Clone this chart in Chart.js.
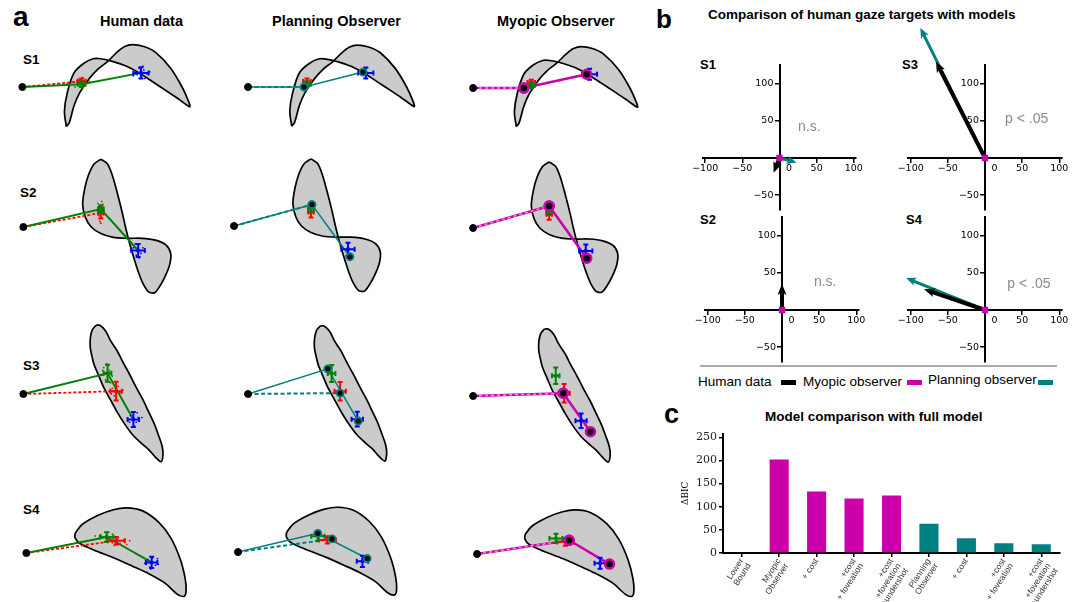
<!DOCTYPE html>
<html>
<head>
<meta charset="utf-8">
<script src="https://cdn.jsdelivr.net/npm/chart.js@4.4.1/dist/chart.umd.min.js"></script>
<style>
html, body { margin: 0; padding: 0; width: 1083px; height: 602px; overflow: hidden; background: #fff;
  font-family: 'Liberation Sans', Arial, sans-serif; }
.t { position: absolute; white-space: nowrap; line-height: 1; color: #000; }
.b { font-weight: bold; }
canvas { position: absolute; }
.bar { position: absolute; }
</style>
</head>
<body>
<div class="t b" style="left:13px;top:3px;font-size:28px">a</div>
<div class="t b" style="left:100px;top:14px;font-size:14.5px">Human data</div>
<div class="t b" style="left:272px;top:14px;font-size:14.5px">Planning Observer</div>
<div class="t b" style="left:497px;top:14px;font-size:14.5px">Myopic Observer</div>
<div class="t b" style="left:23px;top:53px;font-size:13.5px">S1</div>
<div class="t b" style="left:20px;top:186px;font-size:13.5px">S2</div>
<div class="t b" style="left:23px;top:359px;font-size:13.5px">S3</div>
<div class="t b" style="left:23px;top:503px;font-size:13.5px">S4</div>

<div class="t b" style="left:656px;top:6px;font-size:26px">b</div>
<div class="t b" style="left:708px;top:7.5px;font-size:13.5px">Comparison of human gaze targets with models</div>
<div class="t b" style="left:700px;top:58px;font-size:13px">S1</div>
<div class="t b" style="left:902px;top:58px;font-size:13px">S3</div>
<div class="t b" style="left:700px;top:213px;font-size:13px">S2</div>
<div class="t b" style="left:906px;top:213px;font-size:13px">S4</div>
<div class="bar" style="left:700px;top:365px;width:357px;height:1.5px;background:#aaa"></div>
<div class="t" style="left:698px;top:374.5px;font-size:13.5px">Human data</div>
<div class="bar" style="left:781px;top:380px;width:15px;height:4.5px;background:#000"></div>
<div class="t" style="left:803px;top:374.5px;font-size:13.5px">Myopic observer</div>
<div class="bar" style="left:907px;top:380px;width:15px;height:5px;background:#cc00aa"></div>
<div class="t" style="left:928px;top:372.5px;font-size:13.5px">Planning observer</div>
<div class="bar" style="left:1038px;top:380px;width:15px;height:5px;background:#008080"></div>

<div class="t b" style="left:664px;top:401px;font-size:27px">c</div>
<div class="t b" style="left:765px;top:409.5px;font-size:13.5px">Model comparison with full model</div>

<script>
// ---------- panel a: stimulus outlines (px, relative to start fixation, y down) ----------
const outlineS1 = [[46,42],[44,26],[47,6],[54,-15],[64,-25],[74,-30],[82,-30],[95,-27],[109,-22],[122,-15],
  [137,-5],[152,5],[165,14],[175,21],[174,16],[167,0],[155,-20],[139,-37],[127,-43],[115,-45],[107,-43],
  [99,-37],[89,-27],[79,-19],[70,-9],[60,6],[54,20],[49,38],[46,42]];
const outlineS2 = [[81,-72],[74,-67],[68,-55],[64,-40],[62,-24],[65,-10],[71,0],[81,7],[94,11],[109,12],
  [124,12],[138,14],[149,19],[154,28],[153,40],[148,53],[142,64],[137,70],[131,69],[125,60],[120,47],
  [115,31],[111,17],[107,1],[103,-17],[98,-37],[93,-55],[88,-67],[81,-72]];
const outlineS3 = [[76,-73],[72,-68],[70,-59],[70,-49],[72,-39],[74,-31],[79,-19],[84,-7],[91,6],[98,19],
  [106,32],[114,43],[123,52],[131,59],[138,67],[144,72],[146,64],[145,55],[141,43],[137,32],[131,19],
  [125,6],[118,-7],[111,-21],[104,-34],[98,-46],[91,-57],[86,-67],[80,-73],[76,-73]];
const outlineS4 = [[51,-21],[58,-30],[75,-40],[91,-46],[105,-48],[121,-45],[138,-33],[151,-16],[161,7],
  [166,27],[167,40],[165,46],[158,44],[145,32],[128,22],[111,14],[91,5],[71,-3],[56,-10],[51,-16],[51,-21]];
const outlines = [outlineS1, outlineS2, outlineS3, outlineS4];

// human fixation means and spread (S1..S4)
const humanMeanGreen = [[62,-3],[81,-19],[88,-22],[84,-17]];
const humanErrGreen  = [[4,3],[3,4],[4,9],[7,5]];
const humanMeanRed   = [[62,-6],[81,-15],[97,-3],[94,-13]];
const humanErrRed    = [[4,3],[3,6],[6,10],[9,4]];
const humanMeanBlue  = [[124,-15],[120,25],[115,27],[131,10]];
const humanErrBlue   = [[8,6],[7,7],[6,8],[6,6]];

const humanDotsGreen = [
  [[58,-2],[60,0],[64,-6],[66,-2],[63,2],[57,-5],[61,-8],[68,-4],[55,0]],
  [[79,-22],[83,-24],[80,-16],[84,-20],[78,-25],[82,-27]],
  [[84,-28],[86,-15],[90,-25],[82,-20],[93,-19],[87,-32],[83,-25],[91,-12]],
  [[78,-19],[88,-14],[82,-12],[90,-20],[86,-22],[76,-16],[72,-18]]
];
const humanDotsRed = [
  [[59,-8],[63,-10],[66,-7],[60,-4],[57,-7],[65,-3],[70,-6],[52,-5],[47,-4]],
  [[79,-12],[82,-10],[80,-6],[83,-14],[78,-17],[81,-4]],
  [[93,-6],[101,-1],[95,2],[99,-8],[104,-4],[92,0]],
  [[98,-10],[102,-14],[92,-8],[96,-16],[108,-13],[90,-11],[105,-9]]
];
const humanDotsBlue = [
  [[118,-16],[120,-13],[127,-18],[130,-14],[125,-10],[122,-20],[133,-16],[126,-22],[116,-12],[128,-9]],
  [[115,22],[125,22],[118,30],[123,28],[127,26],[117,18],[121,33],[112,25]],
  [[112,23],[118,30],[120,25],[111,30],[116,34],[124,25],[119,20]],
  [[127,7],[135,13],[129,15],[137,6],[132,5],[124,11],[138,12],[130,17]]
];

// model gaze targets
const planFirst   = [[59,0],[82,-23],[84,-27],[84,-20]];
const planSecond  = [[121,-16],[122,33],[116,29],[136,7]];
const planDashEnd = [[59,0],[82,-23],[97,-1],[99,-14]];
const myoFirst    = [[54,0],[81,-24],[96,-3],[98,-15]];
const myoSecond   = [[121,-15],[121,33],[125,39],[141,11]];
const myoDashEnd  = [[54,0],[81,-24],[96,-3],[98,-15]];

// ---------- panel b: gaze target differences relative to myopic model ----------
const quiverOrder    = ['S1','S2','S3','S4'];
const quiverHuman    = [[-8,-20],[0,35],[-66,130],[-82,28]];
const quiverPlanning = [[23,-6],[5,-1],[-87,175],[-106,43]];
const quiverMyopic   = [[0,0],[0,0],[0,0],[0,0]];
const quiverNotes    = ['n.s.','n.s.','p < .05','p < .05'];
const quiverTicksX   = [-100,-50,0,50,100];
const quiverTicksY   = [-50,50,100];

// ---------- panel c ----------
const bicLabels = [['Lower','Bound'],['Myopic','Observer'],['+ cost'],['+cost','+ foveation'],
  ['+cost','+foveation','+undershot'],['Planning','Observer'],['+ cost'],['+cost','+ foveation'],
  ['+cost','+foveation','+undershot']];
const bicValues = [0, 202, 133, 118, 124, 63, 32, 21, 19];
const bicFamily = ['none','myopic','myopic','myopic','myopic','planning','planning','planning','planning'];
const bicTicks  = [0, 50, 100, 150, 200, 250];

// ---------- colours & layout ----------
const GREEN = '#008000', RED = '#ff0000', BLUE = '#0000ff';
const TEAL = '#008080', MAGENTA = '#cc00aa';
const familyColor = { none: '#888', myopic: MAGENTA, planning: TEAL };

const gazeStarts = [
  [[18,87],[243,87],[467,88]],
  [[19,227],[229,226],[467,228]],
  [[19,394],[243,394],[467,396]],
  [[22,553],[233,552],[471,554]]
];
const X0 = -15, X1 = 215, Y0 = -85, Y1 = 85;

const pts = arr => arr.map(([x, y]) => ({x, y}));

Chart.defaults.font.family = "'Liberation Sans', Arial, sans-serif";
Chart.defaults.color = '#000';

// error bars drawn through the scales, right after their dataset
const errorBars = {
  id: 'errorBars',
  afterDatasetDraw(chart, args) {
    const ds = chart.data.datasets[args.index];
    if (!ds.errors) return;
    const {ctx, scales: {x, y}} = chart;
    ctx.save();
    ctx.strokeStyle = ds.borderColor;
    ctx.lineWidth = 2;
    ds.data.forEach((p, j) => {
      const [ex, ey] = ds.errors[j];
      const px = x.getPixelForValue(p.x), py = y.getPixelForValue(p.y);
      const xa = x.getPixelForValue(p.x - ex), xb = x.getPixelForValue(p.x + ex);
      const ya = y.getPixelForValue(p.y - ey), yb = y.getPixelForValue(p.y + ey);
      const c = 2.5;
      ctx.beginPath();
      ctx.moveTo(xa, py); ctx.lineTo(xb, py);
      ctx.moveTo(px, ya); ctx.lineTo(px, yb);
      ctx.moveTo(xa, py - c); ctx.lineTo(xa, py + c);
      ctx.moveTo(xb, py - c); ctx.lineTo(xb, py + c);
      ctx.moveTo(px - c, ya); ctx.lineTo(px + c, ya);
      ctx.moveTo(px - c, yb); ctx.lineTo(px + c, yb);
      ctx.stroke();
    });
    ctx.restore();
  }
};

function gazeChart(row, col) {
  const [sx, sy] = gazeStarts[row][col];
  const cv = document.createElement('canvas');
  cv.width = X1 - X0; cv.height = Y1 - Y0;
  cv.style.left = (sx + X0) + 'px';
  cv.style.top = (sy + Y0) + 'px';
  document.body.appendChild(cv);

  const start = [{x: 0, y: 0}];
  const mean = (arr, err, color) => ({
    data: pts([arr[row]]), errors: [err[row]], borderColor: color, backgroundColor: color,
    pointStyle: 'rect', pointRadius: 2.4, borderWidth: 0, showLine: false
  });
  const datasets = [
    { data: start, backgroundColor: '#000', borderColor: '#000', pointRadius: 3.5, showLine: false }
  ];
  if (col === 0) {
    datasets.push(
      mean(humanMeanGreen, humanErrGreen, GREEN),
      mean(humanMeanRed, humanErrRed, RED),
      mean(humanMeanBlue, humanErrBlue, BLUE),
      { data: pts(humanDotsGreen[row]), backgroundColor: GREEN, pointStyle: 'rect', pointRadius: 1.1, borderWidth: 0, showLine: false },
      { data: pts(humanDotsRed[row]), backgroundColor: RED, pointStyle: 'rect', pointRadius: 1.1, borderWidth: 0, showLine: false },
      { data: pts(humanDotsBlue[row]), backgroundColor: BLUE, pointStyle: 'rect', pointRadius: 1.1, borderWidth: 0, showLine: false },
      { data: [start[0], ...pts([humanMeanGreen[row], humanMeanBlue[row]])], showLine: true,
        borderColor: GREEN, borderWidth: 2, pointRadius: 0 },
      { data: [start[0], ...pts([humanMeanRed[row]])], showLine: true,
        borderColor: RED, borderWidth: 1.8, borderDash: [3, 2], pointRadius: 0 }
    );
  } else {
    const planning = col === 1;
    const c = planning ? TEAL : MAGENTA;
    const first = planning ? planFirst : myoFirst;
    const second = planning ? planSecond : myoSecond;
    const dashEnd = planning ? planDashEnd : myoDashEnd;
    datasets.push(
      { data: pts([first[row], second[row], dashEnd[row]]), backgroundColor: '#000', borderColor: c,
        borderWidth: planning ? 1.8 : 2.5, pointRadius: planning ? 3.5 : 4.5, showLine: false },
      mean(humanMeanGreen, humanErrGreen, GREEN),
      mean(humanMeanRed, humanErrRed, RED),
      mean(humanMeanBlue, humanErrBlue, BLUE),
      { data: [start[0], ...pts([dashEnd[row]])], showLine: true,
        borderColor: planning ? TEAL : '#ee99dd', borderWidth: planning ? 2 : 1.4,
        borderDash: planning ? [4, 2.5] : [3, 3], pointRadius: 0 },
      { data: [start[0], ...pts([first[row], second[row]])], showLine: true,
        borderColor: c, borderWidth: planning ? 1.5 : 2.5, pointRadius: 0 }
    );
  }
  datasets.push({
    data: pts(outlines[row]), showLine: true, fill: 'shape', tension: 0.3,
    backgroundColor: '#cbcbcb', borderColor: '#000', borderWidth: 1.7, pointRadius: 0
  });
  datasets.forEach(d => { d.clip = false; });

  new Chart(cv, {
    type: 'scatter',
    data: { datasets },
    options: {
      responsive: false, animation: false, events: [],
      layout: { padding: 0 },
      scales: {
        x: { type: 'linear', min: X0, max: X1, display: false },
        y: { type: 'linear', min: Y0, max: Y1, reverse: true, display: false }
      },
      plugins: { legend: { display: false }, tooltip: { enabled: false } }
    },
    plugins: [errorBars]
  });
}

for (let r = 0; r < 4; r++) for (let c = 0; c < 3; c++) gazeChart(r, c);

// ---------- panel b ----------
const arrowHeads = {
  id: 'arrowHeads',
  afterDatasetDraw(chart, args) {
    const ds = chart.data.datasets[args.index];
    if (!ds.arrow) return;
    const [a, b] = args.meta.data;
    const dx = b.x - a.x, dy = b.y - a.y;
    const dist = Math.hypot(dx, dy);
    if (dist < 0.5) return;
    const [len, wid, shaft] = ds.arrow;
    const hl = Math.min(len, dist + 2);
    const ctx = chart.ctx;
    ctx.save();
    ctx.translate(a.x, a.y);
    ctx.rotate(Math.atan2(dy, dx));
    ctx.fillStyle = ctx.strokeStyle = ds.borderColor;
    if (dist > hl) {
      ctx.lineWidth = shaft;
      ctx.beginPath(); ctx.moveTo(0, 0); ctx.lineTo(dist - hl * 0.6, 0); ctx.stroke();
    }
    ctx.beginPath();
    ctx.moveTo(dist, 0); ctx.lineTo(dist - hl, wid / 2); ctx.lineTo(dist - hl * 0.75, 0);
    ctx.lineTo(dist - hl, -wid / 2); ctx.closePath(); ctx.fill();
    ctx.restore();
  }
};
const noteText = {
  id: 'noteText',
  afterDatasetsDraw(chart, args, opts) {
    const {ctx, scales: {x, y}} = chart;
    ctx.save();
    ctx.font = "14px 'Liberation Sans', Arial, sans-serif";
    ctx.fillStyle = '#8a8a8a';
    ctx.fillText(opts.text, x.getPixelForValue(opts.x), y.getPixelForValue(opts.y));
    ctx.restore();
  }
};

const quiverOrigins = { S1: [779.5, 158], S2: [782, 310], S3: [985, 158], S4: [985, 310] };
const notePos = { S1: [25, 36], S2: [43, 32], S3: [27, 47], S4: [30, 30] };
const QX0 = -103, QX1 = 103, QY0 = -70, QY1 = 125, K = 0.743;
const fmtTick = v => (v < 0 ? '\u2212' + Math.abs(v) : String(v));

quiverOrder.forEach((s, i) => {
  const [ox, oy] = quiverOrigins[s];
  const padL = 15, padT = 57, W = 186, H = 212;
  const cv = document.createElement('canvas');
  cv.width = W; cv.height = H;
  const left = Math.round(ox + QX0 * K - padL), top = Math.round(oy - QY1 * K - padT);
  cv.style.left = left + 'px'; cv.style.top = top + 'px';
  document.body.appendChild(cv);
  const caL = ox + QX0 * K - left, caR = ox + QX1 * K - left;
  const caT = oy - QY1 * K - top, caB = oy - QY0 * K - top;
  const axis = {
    grid: { drawOnChartArea: false, tickLength: 4, color: '#000', lineWidth: 1.5 },
    border: { color: '#000', width: 2 }
  };
  new Chart(cv, {
    type: 'scatter',
    data: { datasets: [
      { data: pts([quiverMyopic[i]]), pointStyle: 'rect', pointRadius: 4.5, backgroundColor: MAGENTA, borderWidth: 0 },
      { data: pts([[0, 0], quiverHuman[i]]), borderColor: '#000', pointRadius: 0, arrow: [11, 9, 4], clip: false },
      { data: pts([[0, 0], quiverPlanning[i]]), borderColor: TEAL, pointRadius: 0, arrow: [10, 8.5, 3], clip: false }
    ] },
    options: {
      responsive: false, animation: false, events: [],
      layout: { padding: { left: caL, top: caT, right: W - caR, bottom: H - caB } },
      scales: {
        x: { ...axis, type: 'linear', min: QX0, max: QX1, position: { y: 0 },
          afterBuildTicks: sc => { sc.ticks = quiverTicksX.map(v => ({ value: v })); },
          ticks: { font: { size: 9.5, family: "'DejaVu Sans', sans-serif" }, padding: 1, maxRotation: 0, autoSkip: false,
            callback: v => (v === 0 ? '\u2003\u20030' : fmtTick(v)) } },
        y: { ...axis, type: 'linear', min: QY0, max: QY1, position: { x: 0 },
          afterBuildTicks: sc => { sc.ticks = quiverTicksY.map(v => ({ value: v })); },
          ticks: { font: { size: 9.5, family: "'DejaVu Sans', sans-serif" }, autoSkip: false,
            callback: v => fmtTick(v) + '  ' } }
      },
      plugins: { legend: { display: false }, tooltip: { enabled: false },
        noteText: { text: quiverNotes[i], x: notePos[s][0], y: notePos[s][1] } }
    },
    plugins: [arrowHeads, noteText]
  });
});

// ---------- panel c ----------
(function () {
  const cv = document.createElement('canvas');
  cv.width = 400; cv.height = 177;
  cv.style.left = '680px'; cv.style.top = '425px';
  document.body.appendChild(cv);
  new Chart(cv, {
    type: 'bar',
    data: { labels: bicLabels, datasets: [{
      data: bicValues,
      backgroundColor: bicFamily.map(f => familyColor[f]),
      barPercentage: 0.51, categoryPercentage: 1, borderWidth: 0
    }] },
    options: {
      responsive: false, animation: false, events: [],
      layout: { padding: { top: 8, right: 20, left: 0, bottom: 0 } },
      scales: {
        x: { offset: true,
          grid: { offset: false, drawOnChartArea: false, tickLength: 4, color: '#000', lineWidth: 1.5 },
          border: { color: '#000', width: 2 },
          ticks: { minRotation: 57, maxRotation: 57, autoSkip: false, padding: 0, color: '#333',
            font: { size: 8.5, lineHeight: 1.05, family: "'Liberation Sans', Arial, sans-serif" } },
          afterFit: sc => { sc.height = 49; } },
        y: { min: 0, max: 258,
          afterBuildTicks: sc => { sc.ticks = bicTicks.map(v => ({ value: v })); },
          grid: { drawOnChartArea: false, tickLength: 4, color: '#000', lineWidth: 1.5 },
          border: { color: '#000', width: 2 },
          ticks: { padding: 2, font: { size: 11, family: "'DejaVu Serif', serif" }, color: '#222' },
          title: { display: true, text: '\u0394BIC', padding: 0, font: { size: 9, family: "'DejaVu Serif', serif" } },
          afterFit: sc => { sc.width = 43; } }
      },
      plugins: { legend: { display: false }, tooltip: { enabled: false } }
    }
  });
})();
</script>
</body>
</html>
